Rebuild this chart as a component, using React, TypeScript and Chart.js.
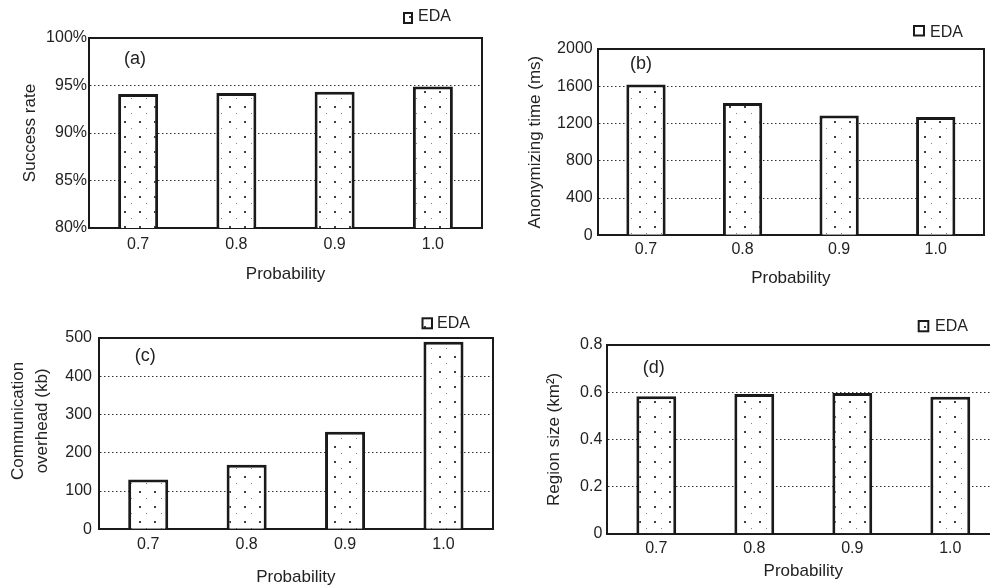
import React, { useEffect, useRef } from 'react';
import Chart from 'chart.js/auto';

// ---------- data ----------
const categories = ['0.7', '0.8', '0.9', '1.0'];
const seriesName = 'EDA';
const xTitle = 'Probability';

const successRate = [94.1, 94.2, 94.35, 94.9];
const successTicks = [80, 85, 90, 95, 100];

const anonymizingTime = [1620, 1420, 1285, 1270];
const anonymizingTicks = [0, 400, 800, 1200, 1600, 2000];

const communicationOverhead = [130, 169, 255, 490];
const communicationTicks = [0, 100, 200, 300, 400, 500];

const regionSize = [0.583, 0.592, 0.597, 0.581];
const regionTicks = [0, 0.2, 0.4, 0.6, 0.8];

const panelLabels = ['(a)', '(b)', '(c)', '(d)'];

// ---------- styling ----------
const FONT = "'Liberation Sans', Arial, Helvetica, sans-serif";
const INK = '#1a1a1a';
const TEXT = '#222222';

function makeDotPattern(): CanvasPattern | string {
  const tile = document.createElement('canvas');
  tile.width = 15;
  tile.height = 15;
  const c = tile.getContext('2d');
  if (!c) return '#ffffff';
  c.fillStyle = '#ffffff';
  c.fillRect(0, 0, 15, 15);
  c.fillStyle = '#404040';
  c.fillRect(4, 1, 2, 2);
  c.fillStyle = '#808080';
  c.fillRect(11, 8, 1, 1);
  return c.createPattern(tile, 'repeat') || '#ffffff';
}

type PanelCfg = {
  left: number;
  top: number;
  width: number;
  height: number;
  values: number[];
  ticks: number[];
  suffix: string;
  decimals: number;
  yTitle: string | string[];
  yTitleLineHeight: number;
  yTitlePad: number;
  yTickPad: number;
  xTickPad: number;
  xTitlePad: number;
  padTop: number;
  padRight: number;
  yAxisWidth: number;
  xAxisHeight: number;
  label: string;
  labelX: number;
  labelY: number;
  legendBox: [number, number, number, number];
  legendTextX: number;
  legendTextY: number;
};

const panels: PanelCfg[] = [
  {
    left: 0, top: 0, width: 495, height: 292,
    values: successRate, ticks: successTicks, suffix: '%', decimals: 0,
    yTitle: 'Success rate', yTitleLineHeight: 1.2, yTitlePad: 19.8,
    yTickPad: 2, xTickPad: 7, xTitlePad: 7.8,
    padTop: 38, padRight: 13, yAxisWidth: 89, xAxisHeight: 64,
    label: panelLabels[0], labelX: 124, labelY: 59,
    legendBox: [403, 12, 10, 12], legendTextX: 418, legendTextY: 16.5,
  },
  {
    left: 500, top: 0, width: 490, height: 292,
    values: anonymizingTime, ticks: anonymizingTicks, suffix: '', decimals: 0,
    yTitle: 'Anonymizing time (ms)', yTitleLineHeight: 1.2, yTitlePad: 25.3,
    yTickPad: 5, xTickPad: 5, xTitlePad: 3.8,
    padTop: 49, padRight: 6, yAxisWidth: 97.7, xAxisHeight: 56.7,
    label: panelLabels[1], labelX: 130, labelY: 64,
    legendBox: [413, 25, 12, 11.5], legendTextX: 430, legendTextY: 32.5,
  },
  {
    left: 0, top: 295, width: 495, height: 300,
    values: communicationOverhead, ticks: communicationTicks, suffix: '', decimals: 0,
    yTitle: ['\u2002\u2002\u2002Communication', '\u2002\u2002\u2002overhead (kb)'],
    yTitleLineHeight: 24 / 17, yTitlePad: 6.3,
    yTickPad: 7, xTickPad: 6, xTitlePad: 7.8,
    padTop: 43, padRight: 2.3, yAxisWidth: 99, xAxisHeight: 65.7,
    label: panelLabels[2], labelX: 134.7, labelY: 61,
    legendBox: [421.5, 22.3, 11.5, 12], legendTextX: 437, legendTextY: 28.5,
  },
  {
    left: 500, top: 295, width: 510, height: 290,
    values: regionSize, ticks: regionTicks, suffix: '', decimals: 1,
    yTitle: 'Region size (km\u00B2)', yTitleLineHeight: 1.2, yTitlePad: 44.3,
    yTickPad: 5, xTickPad: 5.7, xTitlePad: 3.3,
    padTop: 50, padRight: 10.7, yAxisWidth: 107.3, xAxisHeight: 51.3,
    label: panelLabels[3], labelX: 142.7, labelY: 73.3,
    legendBox: [417.7, 25, 11.6, 12.3], legendTextX: 435, legendTextY: 31.5,
  },
];

const decorPlugin = {
  id: 'panelDecor',
  afterDraw(chart: any, _args: any, opts: any) {
    const ctx: CanvasRenderingContext2D = chart.ctx;
    const ds = chart.data.datasets[0];
    const [bx, by, bw, bh] = opts.legendBox;
    ctx.save();
    ctx.fillStyle = ds.backgroundColor;
    ctx.fillRect(bx, by, bw, bh);
    ctx.lineWidth = 2;
    ctx.strokeStyle = INK;
    ctx.strokeRect(bx + 1, by + 1, bw - 2, bh - 2);
    ctx.fillStyle = TEXT;
    ctx.textAlign = 'left';
    ctx.textBaseline = 'middle';
    ctx.font = `16px ${FONT}`;
    ctx.fillText(String(ds.label), opts.legendTextX, opts.legendTextY);
    ctx.font = `18px ${FONT}`;
    ctx.fillText(opts.label, opts.labelX, opts.labelY);
    ctx.restore();
  },
};

function Panel({ cfg }: { cfg: PanelCfg }) {
  const ref = useRef<HTMLCanvasElement | null>(null);

  useEffect(() => {
    if (!ref.current) return;
    const pattern = makeDotPattern();
    const tmin = cfg.ticks[0];
    const tmax = cfg.ticks[cfg.ticks.length - 1];
    const step = cfg.ticks[1] - cfg.ticks[0];
    const tickFont = { family: FONT, size: 16 };
    const titleFont = { family: FONT, size: 17 };

    const chart = new Chart(ref.current, {
      type: 'bar',
      data: {
        labels: categories,
        datasets: [
          {
            label: seriesName,
            data: cfg.values,
            backgroundColor: pattern as any,
            borderColor: INK,
            borderWidth: 3,
            barPercentage: 0.407,
            categoryPercentage: 1,
            xAxisID: 'x',
            yAxisID: 'y',
          },
        ],
      },
      options: {
        responsive: false,
        animation: false,
        devicePixelRatio: 1,
        events: [],
        layout: { padding: { left: 0, top: cfg.padTop, right: cfg.padRight, bottom: 0 } },
        plugins: {
          legend: { display: false },
          tooltip: { enabled: false },
          panelDecor: {
            label: cfg.label,
            labelX: cfg.labelX,
            labelY: cfg.labelY,
            legendBox: cfg.legendBox,
            legendTextX: cfg.legendTextX,
            legendTextY: cfg.legendTextY,
          },
        } as any,
        scales: {
          x: {
            type: 'category',
            position: 'bottom',
            offset: true,
            grid: { display: false, drawTicks: false },
            border: { display: true, color: INK, width: 2 },
            ticks: { color: TEXT, font: tickFont, padding: cfg.xTickPad, maxRotation: 0 },
            title: {
              display: true,
              text: xTitle,
              color: TEXT,
              font: titleFont,
              padding: { top: 0, bottom: cfg.xTitlePad },
            },
            afterFit: (s: any) => {
              s.height = cfg.xAxisHeight;
            },
          },
          y: {
            type: 'linear',
            position: 'left',
            min: tmin,
            max: tmax,
            grid: { color: '#303030', lineWidth: 1, drawTicks: false },
            border: { display: true, color: INK, width: 2, dash: [1.5, 2.5] },
            ticks: {
              stepSize: step,
              color: TEXT,
              font: tickFont,
              padding: cfg.yTickPad,
              callback: (v: any) => {
                const n = Number(v);
                if (n === 0) return '0';
                return n.toFixed(cfg.decimals) + cfg.suffix;
              },
            },
            title: {
              display: true,
              text: cfg.yTitle,
              color: TEXT,
              font: { family: FONT, size: 17, lineHeight: cfg.yTitleLineHeight },
              padding: { top: cfg.yTitlePad, bottom: 0 },
            },
            afterFit: (s: any) => {
              s.width = cfg.yAxisWidth;
            },
          },
          x2: {
            type: 'category',
            position: 'top',
            grid: { display: false, drawTicks: false },
            border: { display: true, color: INK, width: 2 },
            ticks: { display: false },
            afterFit: (s: any) => {
              s.height = 0;
            },
          },
          y2: {
            type: 'linear',
            position: 'right',
            grid: { display: false, drawTicks: false },
            border: { display: true, color: INK, width: 2 },
            ticks: { display: false },
            afterFit: (s: any) => {
              s.width = 0;
            },
          },
        },
      } as any,
      plugins: [decorPlugin as any],
    });
    return () => chart.destroy();
  }, [cfg]);

  return (
    <canvas
      ref={ref}
      width={cfg.width}
      height={cfg.height}
      style={{
        position: 'absolute',
        left: cfg.left,
        top: cfg.top,
        width: cfg.width,
        height: cfg.height,
      }}
    />
  );
}

export default function App() {
  return (
    <div
      style={{
        position: 'fixed',
        left: 0,
        top: 0,
        width: 990,
        height: 585,
        overflow: 'hidden',
        background: '#ffffff',
      }}
    >
      {panels.map((p, i) => (
        <Panel key={i} cfg={p} />
      ))}
    </div>
  );
}
